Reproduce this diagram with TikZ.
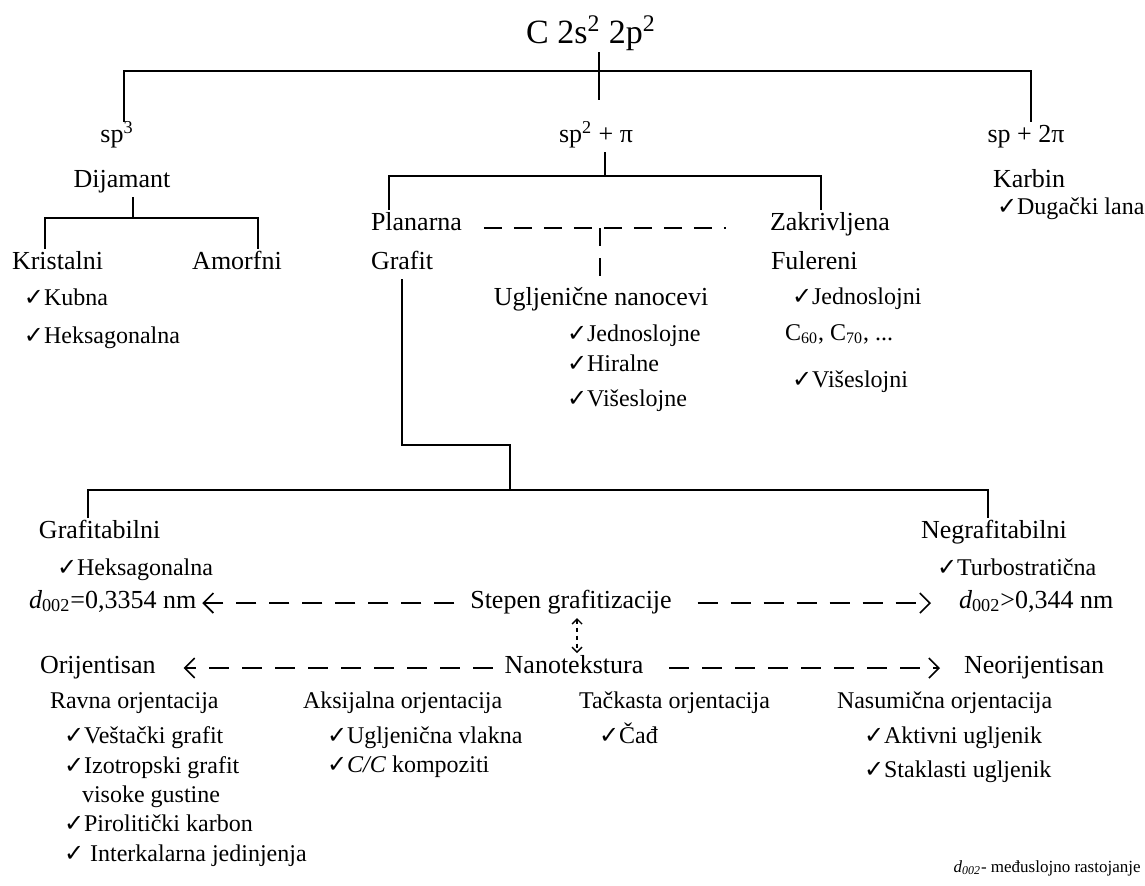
\documentclass[tikz,border=0pt]{standalone}
\usepackage{fontspec}
\setmainfont{Liberation Serif}
\newfontfamily\symfont{DejaVu Sans}
\newcommand{\ck}{{\symfont\fontsize{12}{12}\selectfont ✓}}
\usetikzlibrary{arrows.meta}
\begin{document}
\begin{tikzpicture}[x=0.5pt,y=-0.5pt,
		lbl/.style={inner sep=1pt,outer sep=2pt,text height=0.7em,text depth=0.2em,font=\fontsize{13}{15}\selectfont},
		itm/.style={lbl,font=\fontsize{12}{14}\selectfont},
		ast/.style={line width=0.9pt},
		strich/.style={line width=0.9pt,dash pattern=on 9pt off 6pt},
		pfeil/.style={line width=0.8pt,dash pattern=on 10pt off 6.5pt,-{Straight Barb[length=5pt,width=10pt,line width=0.8pt]}}]
		%Rahmen
		\fill [fill=white] (0,0) rectangle (1145,885);
		\useasboundingbox (0,0) rectangle (1145,885);
		%Hybridisierung
		\node[font=\fontsize{17}{20}\selectfont,anchor=south,inner sep=0pt,text depth=4pt] (c) at (591,52) {C 2s\textsuperscript{2} 2p\textsuperscript{2}};
		\node[lbl] (sp3) at (117,137) {sp\textsuperscript{3}};
		\node[lbl] (sp2) at (596,137) {sp\textsuperscript{2} + π};
		\node[lbl] (sp1) at (1026,137) {sp + 2π};
		\coordinate (k0) at (599,71);
		\coordinate (k0e) at (599,100);
		\coordinate (hL) at (124,71);
		\coordinate (hR) at (1031,71);
		\draw[ast] (k0 |- c.south) -- (k0e);
		\draw[ast] (hL |- sp3.north) -- (hL) -- (hR) -- (hR |- sp1.north);
		%sp3
		\node[lbl] (dijamant) at (122,182) {Dijamant};
		\node[lbl,anchor=west] (kristal) at (6,264) {Kristalni};
		\node[lbl] (amorf) at (237,264) {Amorfni};
		\node[itm,anchor=west] (kubna) at (18,300) {\ck Kubna};
		\node[itm,anchor=west] (heksa) at (18,338) {\ck Heksagonalna};
		\coordinate (dM) at (133,218);
		\coordinate (dL) at (45,218);
		\coordinate (dR) at (258,218);
		\draw[ast] (dM |- dijamant.south) -- (dM);
		\draw[ast] (dL |- kristal.north) -- (dL) -- (dR) -- (dR |- amorf.north);
		%sp2
		\node[lbl,anchor=west] (planarna) at (365,225) {Planarna};
		\node[lbl,anchor=west] (zakriv) at (764,225) {Zakrivljena};
		\node[lbl,anchor=west] (grafit) at (365,264) {Grafit};
		\node[lbl,anchor=west] (fuler) at (765,264) {Fulereni};
		\node[lbl] (nanocev) at (601,300) {Ugljenične nanocevi};
		\node[itm,anchor=west] (jedne) at (561,336) {\ck Jednoslojne};
		\node[itm,anchor=west] (hiral) at (561,366) {\ck Hiralne};
		\node[itm,anchor=west] (visene) at (561,401) {\ck Višeslojne};
		\node[itm,anchor=west] (jedni) at (786,299) {\ck Jednoslojni};
		\node[itm,anchor=west] (cfull) at (779,335) {C\textsubscript{60}, C\textsubscript{70}, ...};
		\node[itm,anchor=west] (viseni) at (786,382) {\ck Višeslojni};
		\coordinate (pM) at (605,176);
		\coordinate (pL) at (389,176);
		\coordinate (pR) at (821,176);
		\coordinate (nc) at (600,228);
		\draw[ast] (pM |- sp2.south) -- (pM);
		\draw[ast] (pL |- planarna.north) -- (pL) -- (pR) -- (pR |- zakriv.north);
		\draw[strich,shorten <=8pt,shorten >=19pt] ([yshift=-1.5pt]planarna.east) -- ([yshift=-1.5pt]zakriv.west);
		\draw[strich,shorten >=3pt] (nc) -- (nc |- nanocev.north);
		%sp
		\node[lbl,anchor=west] (karbin) at (987,182) {Karbin};
		\node[itm,anchor=west] (lanac) at (991,209) {\ck Dugački lanac};
		%Grafit
		\node[lbl,anchor=west] (grafitab) at (33,533) {Grafitabilni};
		\node[lbl,anchor=west] (negraf) at (915,533) {Negrafitabilni};
		\node[itm,anchor=west] (heksb) at (51,570) {\ck Heksagonalna};
		\node[itm,anchor=west] (turbo) at (931,570) {\ck Turbostratična};
		\coordinate (gK) at (402,445);
		\coordinate (gM) at (510,445);
		\coordinate (bM) at (510,490);
		\coordinate (bL) at (88,490);
		\coordinate (bR) at (988,490);
		\draw[ast] (gK |- grafit.south) -- (gK) -- (gM) -- (bM);
		\draw[ast] (bL |- grafitab.north) -- (bL) -- (bR) -- (bR |- negraf.north);
		%Stepen grafitizacije
		\node[lbl,anchor=west] (dmin) at (23,603) {\textit{d}\textsubscript{002}=0,3354 nm};
		\node[lbl] (stepen) at (571,603) {Stepen grafitizacije};
		\node[lbl,anchor=west] (dmax) at (953,603) {\textit{d}\textsubscript{002}>0,344 nm};
		\draw[pfeil,shorten <=5pt] (stepen.west) -- (dmin.east);
		\draw[pfeil,shorten <=10pt,shorten >=11pt] (stepen.east) -- (dmax.west);
		%Nanotekstura
		\node[lbl] (nano) at (574,668) {Nanotekstura};
		\node[lbl,anchor=west] (orij) at (34,668) {Orijentisan};
		\node[lbl,anchor=west] (neorij) at (958,668) {Neorijentisan};
		\draw[pfeil,shorten <=3pt,shorten >=11pt] (nano.west) -- (orij.east);
		\draw[pfeil,shorten <=10pt,shorten >=9pt] (nano.east) -- (neorij.west);
		\draw[{Straight Barb[length=2.5pt,width=5pt]}-{Straight Barb[length=2.5pt,width=5pt]},line width=0.7pt,dash pattern=on 2pt off 2pt] ([xshift=3pt]stepen.south) -- ([xshift=1.5pt]nano.north);
		%Orijentacija
		\node[itm,anchor=west] (ravna) at (44,703) {Ravna orjentacija};
		\node[itm,anchor=west] (aksi) at (297,703) {Aksijalna orjentacija};
		\node[itm,anchor=west] (tacka) at (573,703) {Tačkasta orjentacija};
		\node[itm,anchor=west] (nasum) at (831,703) {Nasumična orjentacija};
		\node[itm,anchor=west] (vestak) at (58,738) {\ck Veštački grafit};
		\node[itm,anchor=west] (izotrop) at (58,768) {\ck Izotropski grafit};
		\node[itm,anchor=west] (visoke) at (76,797) {visoke gustine};
		\node[itm,anchor=west] (pirol) at (58,826) {\ck Pirolitički karbon};
		\node[itm,anchor=west] (interk) at (58,856) {\ck\ Interkalarna jedinjenja};
		\node[itm,anchor=west] (vlakna) at (321,738) {\ck Ugljenična vlakna};
		\node[itm,anchor=west] (kompoz) at (321,767) {\ck\textit{C/C} kompoziti};
		\node[itm,anchor=west] (cad) at (593,738) {\ck Čađ};
		\node[itm,anchor=west] (aktiv) at (858,738) {\ck Aktivni ugljenik};
		\node[itm,anchor=west] (staklo) at (858,772) {\ck Staklasti ugljenik};
		%Fussnote
		\node[anchor=east,inner sep=1pt,font=\fontsize{8.5}{10}\selectfont] (fn) at (1143,868) {\textit{d\textsubscript{002}}- međuslojno rastojanje};
	\end{tikzpicture}
\end{document}
